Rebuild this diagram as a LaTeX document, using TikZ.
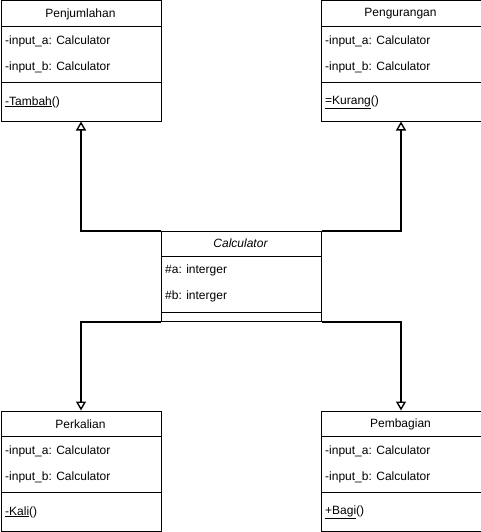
\documentclass[tikz,border=0pt]{standalone}
\usepackage{fontspec}
\setmainfont{Liberation Sans}
\usetikzlibrary{arrows.meta}
\begin{document}
\begin{tikzpicture}[x=1pt,y=-1pt,
  box/.style={draw=black,line width=1pt,minimum width=160pt,minimum height=#1,inner sep=0pt,anchor=north west,fill=white},
  sep/.style={draw=black,line width=1pt},
  ttl/.style={inner sep=0pt,font=\fontsize{12}{14}\selectfont},
  txt/.style={inner sep=0pt,anchor=west,font=\fontsize{12}{14}\selectfont},
  gen/.style={draw=black,line width=2pt,-{Triangle[open,width=10pt,length=9pt,line width=1.4pt]}}
]
\useasboundingbox (0,0) rectangle (481,532);
\fill[white] (0,0) rectangle (481,532);

% Penjumlahan
\node[box=120pt] (pen) at (0.5,0.5) {};
\draw[sep] (0.5,26.5) -- (160.5,26.5);
\draw[sep] (0.5,82.5) -- (160.5,82.5);
\node[ttl] (penT) at (80.5,14) {Penjumlahan};
\node[txt] (penA) at (5,41) {-input\_a: Calculator};
\node[txt] (penB) at (5,67) {-input\_b: Calculator};
\node[txt] (penM) at (5,102) {\underline{-Tambah}()};

% Pengurangan
\node[box=120pt] (pgr) at (320.5,0.5) {};
\draw[sep] (320.5,26.5) -- (480.5,26.5);
\draw[sep] (320.5,82.5) -- (480.5,82.5);
\node[ttl] (pgrT) at (400.5,14) {Pengurangan};
\node[txt] (pgrA) at (325,41) {-input\_a: Calculator};
\node[txt] (pgrB) at (325,67) {-input\_b: Calculator};
\node[txt] (pgrM) at (325,102) {\underline{=Kurang}()};

% Calculator
\node[box=90pt] (cal) at (160.5,230.5) {};
\draw[sep] (160.5,256.5) -- (320.5,256.5);
\draw[sep] (160.5,312.5) -- (320.5,312.5);
\node[ttl] (calT) at (240.5,243) {\itshape Calculator};
\node[txt] (calA) at (165,270) {\#a: interger};
\node[txt] (calB) at (165,296) {\#b: interger};

% Perkalian
\node[box=120pt] (per) at (0.5,410.5) {};
\draw[sep] (0.5,436.5) -- (160.5,436.5);
\draw[sep] (0.5,492.5) -- (160.5,492.5);
\node[ttl] (perT) at (80.5,424) {Perkalian};
\node[txt] (perA) at (5,451) {-input\_a: Calculator};
\node[txt] (perB) at (5,477) {-input\_b: Calculator};
\node[txt] (perM) at (5,512) {\underline{-Kali}()};

% Pembagian
\node[box=120pt] (pem) at (320.5,410.5) {};
\draw[sep] (320.5,436.5) -- (480.5,436.5);
\draw[sep] (320.5,492.5) -- (480.5,492.5);
\node[ttl] (pemT) at (400.5,424) {Pembagian};
\node[txt] (pemA) at (325,451) {-input\_a: Calculator};
\node[txt] (pemB) at (325,477) {-input\_b: Calculator};
\node[txt] (pemM) at (325,512) {\underline{+Bagi}()};

% connectors
\draw[gen] (cal.north west) -| (pen.south);
\draw[gen] (cal.north east) -| (pgr.south);
\draw[gen] (cal.south west) -| (per.north);
\draw[gen] (cal.south east) -| (pem.north);
\end{tikzpicture}
\end{document}
